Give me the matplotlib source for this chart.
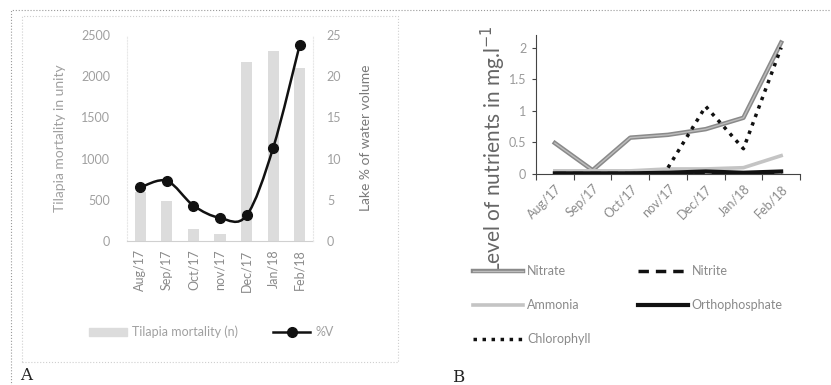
import matplotlib
matplotlib.use('Agg')
import matplotlib.pyplot as plt
import matplotlib.patheffects as pe
import numpy as np
from matplotlib.path import Path
from matplotlib.patches import PathPatch, Rectangle
from matplotlib.lines import Line2D

plt.rcParams['font.family'] = ['Lato', 'DejaVu Sans']

months = ['Aug/17', 'Sep/17', 'Oct/17', 'nov/17', 'Dec/17', 'Jan/18', 'Feb/18']

# panel A
mortality = [600, 480, 150, 90, 2170, 2300, 2100]
volume_pct = [6.5, 7.3, 4.3, 2.8, 3.1, 11.3, 23.8]

# panel B
nitrate = [0.49, 0.06, 0.575, 0.62, 0.71, 0.89, 2.08]
nitrite = [0.02, 0.02, 0.02, 0.02, 0.02, 0.02, 0.02]
ammonia = [0.05, 0.05, 0.05, 0.08, 0.08, 0.10, 0.29]
orthophosphate = [0.01, 0.01, 0.01, 0.02, 0.04, 0.02, 0.04]
chlorophyll = [np.nan, np.nan, np.nan, 0.10, 1.07, 0.40, 2.00]

W, H = 831, 385
fig = plt.figure(figsize=(W / 100, H / 100), dpi=100)


def fx(px):
    return px / W


def fy(py):
    return 1 - py / H


def smooth_path(xs, ys):
    pts = np.column_stack([xs, ys]).astype(float)
    n = len(pts)
    verts = [pts[0]]
    codes = [Path.MOVETO]
    for i in range(n - 1):
        p0 = pts[max(i - 1, 0)]
        p1 = pts[i]
        p2 = pts[i + 1]
        p3 = pts[min(i + 2, n - 1)]
        verts += [p1 + (p2 - p0) / 6, p2 - (p3 - p1) / 6, p2]
        codes += [Path.CURVE4] * 3
    return Path(verts, codes)


# frame decorations
fig.patches.append(Rectangle((fx(11), fy(400)), 1.0, fy(10) - fy(400),
                             transform=fig.transFigure, fill=False,
                             ec='#9a9a9a', lw=0.8, ls=':'))
fig.patches.append(Rectangle((fx(22), fy(362)), fx(398) - fx(22), fy(16) - fy(362),
                             transform=fig.transFigure, fill=False,
                             ec='#cfcfcf', lw=0.8, ls=':'))

# ---------- panel A ----------
gray_txt = '#a0a0a0'
axA = fig.add_axes([fx(127), fy(241), fx(313) - fx(127), fy(35) - fy(241)])
x = np.arange(len(months))
axA.bar(x, mortality, width=0.42, color='#dcdcdc', zorder=1)
axA.set_xlim(-0.5, 6.5)
axA.set_ylim(0, 2500)
axA.set_yticks([0, 500, 1000, 1500, 2000, 2500])
axA.set_xticks(x)
axA.set_xticklabels(months, rotation=90, color='#8a8a8a', fontsize=9)
axA.tick_params(axis='y', colors=gray_txt, labelsize=9, length=0, pad=12)
axA.tick_params(axis='x', length=0, pad=6)
for s in ['top', 'right']:
    axA.spines[s].set_visible(False)
axA.spines['left'].set_color('#e8e8e8')
axA.spines['left'].set_linestyle(':')
axA.spines['bottom'].set_color('#d0d0d0')
axA.set_ylabel('Tilapia mortality in unity', color=gray_txt, fontsize=10)
axA.yaxis.set_label_coords(-0.33, 0.5)

axA2 = axA.twinx()
axA2.set_ylim(0, 25)
axA2.set_yticks([0, 5, 10, 15, 20, 25])
axA2.tick_params(axis='y', colors=gray_txt, labelsize=9, length=0, pad=10)
for s in ['top', 'left', 'bottom']:
    axA2.spines[s].set_visible(False)
axA2.spines['right'].set_color('#e8e8e8')
axA2.spines['right'].set_linestyle(':')
axA2.set_ylabel('Lake % of water volume', color='#7a7a7a', fontsize=10)
axA2.yaxis.set_label_coords(1.25, 0.5)
axA2.add_patch(PathPatch(smooth_path(x, volume_pct), fill=False,
                         ec='#111111', lw=1.8, zorder=3))
axA2.plot(x, volume_pct, 'o', color='#111111', ms=7, zorder=4)

handlesA = [Rectangle((0, 0), 1, 1, color='#dcdcdc'),
            Line2D([], [], color='#111111', lw=1.8, marker='o', ms=7)]
fig.legend(handlesA, ['Tilapia mortality (n)', '%V'], loc='center left',
           bbox_to_anchor=(fx(78), fy(332)), ncol=2, frameon=False,
           fontsize=9, labelcolor=gray_txt, handlelength=3.0,
           columnspacing=2.8, handletextpad=0.4)

fig.text(fx(20), fy(376), 'A', fontsize=12, family='DejaVu Serif',
         va='center', color='#222222')

# ---------- panel B ----------
axB = fig.add_axes([fx(536), fy(174), fx(800) - fx(536), fy(35) - fy(174)])
nitrate_fx = [pe.Stroke(linewidth=3.2, foreground='#8a8a8a'), pe.Normal()]
axB.plot(x, nitrate, color='#bdbdbd', lw=1.0, label='Nitrate', zorder=2,
         path_effects=nitrate_fx)
axB.plot(x, nitrite, color='#111111', lw=2.5, ls=(0, (3, 2)),
         label='Nitrite', zorder=3)
axB.plot(x, ammonia, color='#c4c4c4', lw=2.6, label='Ammonia', zorder=2)
axB.plot(x, orthophosphate, color='#111111', lw=3, label='Orthophosphate',
         zorder=3)
axB.plot(x, chlorophyll, color='#111111', lw=2.5, ls=(0, (1, 1.6)),
         label='Chlorophyll', zorder=4)
axB.set_xlim(-0.5, 6.5)
axB.set_ylim(0, 2.2)
axB.set_yticks([0, 0.5, 1, 1.5, 2])
axB.set_yticklabels(['0', '0.5', '1', '1.5', '2'])
axB.set_xticks(np.arange(-0.5, 7.0, 1.0))
axB.set_xticklabels([])
axB.set_xticks(x, minor=True)
axB.set_xticklabels(months, minor=True, rotation=45, ha='right',
                    rotation_mode='anchor', color='#8a8a8a', fontsize=9)
axB.tick_params(axis='x', which='major', length=4, color='#444444',
                direction='out')
axB.tick_params(axis='x', which='minor', length=0, pad=6)
axB.tick_params(axis='y', colors='#9a9a9a', labelsize=9, length=3, pad=4)
axB.tick_params(axis='y', color='#444444')
for s in ['top', 'right']:
    axB.spines[s].set_visible(False)
axB.spines['left'].set_color('#444444')
axB.spines['bottom'].set_color('#444444')

fig.text(fx(493), fy(150), 'Level of nutrients in mg.l$^{-1}$', rotation=90,
         ha='center', va='center', fontsize=15, color='#666666')

# legend is filled column by column: Nitrate, Ammonia, Chlorophyll | Nitrite, Orthophosphate
handlesB, labelsB = axB.get_legend_handles_labels()
order = [0, 2, 4, 1, 3]
fig.legend([handlesB[i] for i in order], [labelsB[i] for i in order],
           loc='upper left', bbox_to_anchor=(fx(462), fy(254)), ncol=2,
           frameon=False, fontsize=9, labelcolor='#8a8a8a',
           handlelength=4.0, handletextpad=0.3, columnspacing=3.8,
           labelspacing=1.75)

fig.text(fx(452), fy(377), 'B', fontsize=12, family='DejaVu Serif',
         va='center', color='#222222')

fig.savefig('out.png', dpi=100)
